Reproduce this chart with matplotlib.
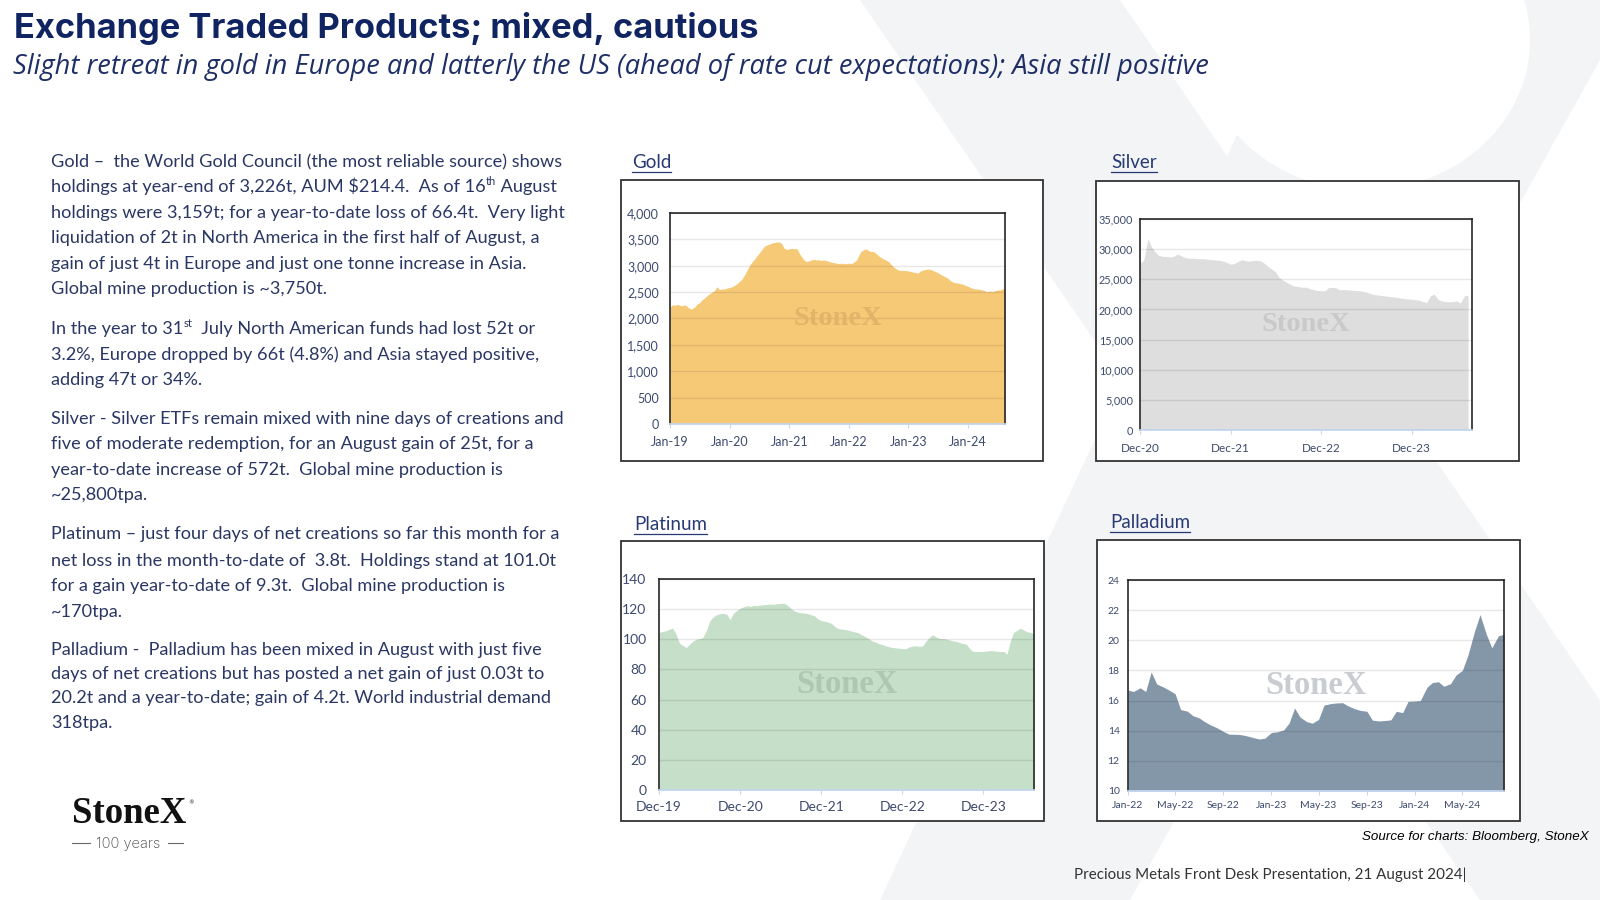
import numpy as np
import pandas as pd
import matplotlib
matplotlib.use("Agg")
import matplotlib.pyplot as plt
from matplotlib.patches import Rectangle, Polygon, Ellipse
from matplotlib.lines import Line2D
import matplotlib.ticker as mticker

# ---- data (semi-monthly) ----
gold = [2210, 2260, 2250, 2270, 2250, 2240, 2260, 2230, 2190, 2180, 2220, 2270,
        2300, 2350, 2390, 2430, 2470, 2500, 2530, 2600, 2550, 2560, 2560, 2575,
        2590, 2600, 2630, 2660, 2700, 2740, 2820, 2900, 3000, 3060, 3120, 3180,
        3240, 3300, 3370, 3390, 3410, 3430, 3440, 3450, 3450, 3420, 3330, 3310,
        3320, 3330, 3320, 3330, 3250, 3180, 3110, 3080, 3090, 3110, 3120, 3110,
        3115, 3100, 3110, 3100, 3080, 3070, 3060, 3050, 3040, 3050, 3040, 3040,
        3050, 3040, 3070, 3100, 3180, 3270, 3300, 3320, 3290, 3270, 3270, 3240,
        3190, 3160, 3130, 3110, 3080, 3030, 2980, 2950, 2920, 2910, 2910, 2910,
        2900, 2890, 2880, 2870, 2860, 2900, 2920, 2930, 2940, 2930, 2910, 2890,
        2870, 2840, 2810, 2790, 2760, 2720, 2690, 2680, 2670, 2660, 2650, 2630,
        2610, 2590, 2570, 2560, 2560, 2550, 2540, 2520, 2510, 2520, 2510, 2530,
        2540, 2540, 2560, 2570]
gold_dates = pd.date_range("2019-01-01", periods=len(gold), freq="SMS")

silver = [27700, 28200, 31700, 30400, 29600, 29000, 28800, 28800, 28700, 28800, 29200, 28900,
          28600, 28500, 28500, 28450, 28400, 28400, 28300, 28250, 28200, 28150, 28000, 27800,
          27500, 27600, 28000, 28250, 28100, 28000, 28100, 28150, 28050, 27700, 27100, 26700,
          26200, 25300, 24800, 24500, 24100, 23850, 23800, 23650, 23700, 23450, 23300, 23150,
          23100, 23100, 23650, 23650, 23600, 23250, 23300, 23250, 23200, 23150, 23100, 23000,
          22900, 22650, 22500, 22400, 22300, 22250, 22150, 22100, 22000, 21900, 21800, 21750,
          21700, 21600, 21500, 21300, 21150, 22200, 22550, 21700, 21400, 21300, 21250, 21300,
          21400, 21050, 22300, 22300]
silver_dates = pd.date_range("2021-01-01", periods=len(silver), freq="SMS")

platinum = [104.5, 105.2, 105.7, 106.5, 107.5, 104.0, 97.5, 96.0, 94.5, 96.5, 98.8, 100.0,
            100.5, 101.0, 106.0, 112.0, 115.0, 116.3, 117.0, 117.3, 116.5, 113.0, 117.4, 119.0,
            120.7, 121.5, 122.3, 121.8, 122.5, 122.3, 122.8, 122.9, 123.2, 123.4, 123.2, 123.6,
            123.8, 124.0, 122.5, 120.5, 118.8, 118.0, 117.6, 117.4, 117.0, 116.2, 115.5, 113.5,
            112.3, 112.0, 111.3, 110.5, 108.5, 107.2, 106.8, 106.5, 106.0, 105.5, 104.8, 104.3,
            103.0, 101.9, 100.5, 99.0, 98.2, 97.2, 96.5, 95.8, 95.0, 94.6, 94.3, 94.1,
            93.8, 93.7, 95.0, 95.5, 95.7, 95.3, 95.5, 98.5, 101.0, 103.0, 101.5, 100.6,
            100.5, 100.3, 99.5, 98.9, 98.6, 97.8, 97.2, 96.8, 93.5, 91.9, 91.9, 92.0,
            91.9, 92.2, 92.4, 92.4, 92.0, 91.8, 91.9, 90.1, 99.0, 104.5, 106.0, 107.4,
            106.0, 105.0, 104.5, 103.5]
platinum_dates = pd.date_range("2020-01-01", periods=len(platinum), freq="SMS")

palladium = [16.7, 16.6, 16.85, 16.6, 17.9, 17.1, 16.9, 16.7, 16.45, 15.4, 15.3, 15.0,
             14.85, 14.6, 14.36, 14.2, 13.95, 13.77, 13.76, 13.74, 13.65, 13.55, 13.45, 13.5,
             13.88, 13.92, 14.05, 14.51, 15.5, 14.9, 14.6, 14.5, 14.75, 15.7, 15.8, 15.84,
             15.86, 15.65, 15.46, 15.35, 15.29, 14.7, 14.65, 14.67, 14.72, 15.29, 15.2, 15.95,
             15.97, 16.0, 16.88, 17.2, 17.25, 16.95, 17.12, 17.7, 18.0, 19.0, 20.6, 21.7,
             20.4, 19.5, 20.3, 20.4]
palladium_dates = pd.date_range("2022-01-01", periods=len(palladium), freq="SMS")

gold_ticks = pd.to_datetime(["2019-01-01", "2020-01-01", "2021-01-01", "2022-01-01", "2023-01-01", "2024-01-01"])
silver_ticks = pd.to_datetime(["2020-12-31", "2021-12-31", "2022-12-31", "2023-12-31"])
platinum_ticks = pd.to_datetime(["2019-12-31", "2020-12-31", "2021-12-31", "2022-12-31", "2023-12-31"])
palladium_ticks = pd.date_range("2022-01-01", "2024-05-01", freq="4MS")

body = [
    (167, "Gold –  the World Gold Council (the most reliable source) shows"),
    (192, ["holdings at year-end of 3,226t, AUM $214.4.  As of 16", "th", " August"]),
    (218, "holdings were 3,159t; for a year-to-date loss of 66.4t.  Very light"),
    (243, "liquidation of 2t in North America in the first half of August, a"),
    (269, "gain of just 4t in Europe and just one tonne increase in Asia."),
    (294, "Global mine production is ~3,750t."),
    (334, ["In the year to 31", "st", "  July North American funds had lost 52t or"]),
    (360, "3.2%, Europe dropped by 66t (4.8%) and Asia stayed positive,"),
    (385, "adding 47t or 34%."),
    (424, "Silver - Silver ETFs remain mixed with nine days of creations and"),
    (449, "five of moderate redemption, for an August gain of 25t, for a"),
    (475, "year-to-date increase of 572t.  Global mine production is"),
    (500, "~25,800tpa."),
    (539, "Platinum – just four days of net creations so far this month for a"),
    (566, "net loss in the month-to-date of  3.8t.  Holdings stand at 101.0t"),
    (591, "for a gain year-to-date of 9.3t.  Global mine production is"),
    (617, "~170tpa."),
    (655, "Palladium -  Palladium has been mixed in August with just five"),
    (679, "days of net creations but has posted a net gain of just 0.03t to"),
    (703, "20.2t and a year-to-date; gain of 4.2t. World industrial demand"),
    (728, "318tpa."),
]

# ---- figure ----
W, H = 1600, 900
fig = plt.figure(figsize=(16, 9), dpi=100)
fig.patch.set_facecolor("white")
R = fig.canvas.get_renderer()


def fx(p):
    return p / W


def fy(p):
    return 1 - p / H


def text_w(t):
    return t.get_window_extent(R).width


def fit(x, y, s, width, size0=12, **kw):
    t = fig.text(fx(x), fy(y), s, fontsize=size0, **kw)
    t.set_fontsize(size0 * width / text_w(t))
    return t


def poly(pts, color, z=0):
    fig.add_artist(Polygon([(fx(a), fy(b)) for a, b in pts], closed=True,
                           transform=fig.transFigure, facecolor=color,
                           edgecolor="none", zorder=z))


# faint background X
bg = "#f3f4f6"
poly([(860, 0), (1120, 0), (1600, 700), (1600, 900), (1480, 900)], bg)
poly([(1300, 0), (1600, 0), (1600, 60), (1130, 900), (880, 900)], bg)
fig.add_artist(Ellipse((fx(1365), fy(40)), 330 / W, 300 / H, transform=fig.transFigure,
                       facecolor="white", edgecolor="none", zorder=0.5))

navy = "#0f2461"
txt = "#2a3764"

# title / subtitle
fit(14, 38, "Exchange Traded Products; mixed, cautious", 744,
    family="Inter", weight="bold", color=navy, va="baseline", zorder=5)
fit(13, 74, "Slight retreat in gold in Europe and latterly the US (ahead of rate cut expectations); Asia still positive",
    1194, family="Open Sans", style="italic", color="#1e2f66", va="baseline", zorder=5)

# body text
t0 = fit(51, 167, body[0][1], 511, family="Lato", color=txt, va="baseline", zorder=5)
fs = t0.get_fontsize()
t0.remove()
for y, line in body:
    if isinstance(line, str):
        fig.text(fx(51), fy(y), line, fontsize=fs, family="Lato", color=txt,
                 va="baseline", zorder=5)
    else:
        x = 51
        for k, seg in enumerate(line):
            sup = k == 1
            t = fig.text(fx(x), fy(y - (fs * 0.55 if sup else 0)), seg,
                         fontsize=fs * (0.62 if sup else 1), family="Lato",
                         color=txt, va="baseline", zorder=5)
            x += text_w(t)

# logo
fit(72, 823, "StoneX", 114, family="Liberation Serif", weight="bold",
    color="#111111", va="baseline", zorder=5)
fig.text(fx(188), fy(804), "®", fontsize=4, color="#111111", va="baseline")
fit(96, 848, "100 years", 64, family="Inter", weight="light", color="#444444",
    va="baseline", zorder=5)
for a, b in [(72, 90), (168, 183)]:
    fig.add_artist(Line2D([fx(a), fx(b)], [fy(843), fy(843)], color="#666666", lw=0.8,
                          transform=fig.transFigure))

# footer
fit(1362, 837, "Source for charts: Bloomberg, StoneX", 226, family="Liberation Sans",
    style="italic", color="black", va="center", zorder=5)
fit(1074, 875, "Precious Metals Front Desk Presentation, 21 August 2024|", 391,
    family="Lato", color="#333333", va="center", zorder=5)


def chart(box, inner, title, txy, dates, vals, ylim, ystep, color, ticks, xlim,
          fsy, fsx, ypad, xpad, wm_size, wm_color, comma):
    x0, y0, x1, y1 = box
    fig.add_artist(Rectangle((fx(x0), fy(y1)), (x1 - x0) / W, (y1 - y0) / H,
                             transform=fig.transFigure, facecolor="white",
                             edgecolor="#333333", lw=1.3, zorder=1))
    t = fig.text(fx(txy[0]), fy(txy[1]), title, fontsize=13.5, family="Lato",
                 color="#283a73", va="baseline", zorder=5)
    tw = text_w(t)
    fig.add_artist(Line2D([fx(txy[0]), fx(txy[0] + tw)], [fy(txy[1] + 3.5)] * 2,
                          color="#283a73", lw=0.9, transform=fig.transFigure, zorder=5))

    a0, b0, a1, b1 = inner
    ax = fig.add_axes([fx(a0), fy(b1), (a1 - a0) / W, (b1 - b0) / H])
    ax.set_zorder(3)
    ax.fill_between(dates, vals, ylim[0], color=color, lw=0, zorder=1)
    ax.set_ylim(*ylim)
    ax.set_xlim(*xlim)
    ax.set_yticks(np.arange(ylim[0], ylim[1] + 1e-9, ystep))
    if comma:
        ax.yaxis.set_major_formatter(mticker.FuncFormatter(lambda v, p: f"{v:,.0f}"))
    else:
        ax.yaxis.set_major_formatter(mticker.FuncFormatter(lambda v, p: f"{v:.0f}"))
    ax.set_xticks(ticks)
    ax.set_xticklabels([d.strftime("%b-%y") for d in ticks])
    ax.yaxis.grid(True, color="black", alpha=0.09, lw=1.0, zorder=2)
    ax.set_axisbelow(False)
    for s in ["left", "top", "right"]:
        ax.spines[s].set_color("#262626")
        ax.spines[s].set_linewidth(1.2)
    ax.spines["bottom"].set_color("#c5d9f1")
    ax.spines["bottom"].set_linewidth(1.3)
    ax.tick_params(axis="y", length=0, pad=ypad, labelsize=fsy, labelcolor="#3c4a6e")
    ax.tick_params(axis="x", length=3, color="#c5d9f1", pad=xpad, labelsize=fsx,
                   labelcolor="#3c4a6e")
    for lab in ax.get_xticklabels() + ax.get_yticklabels():
        lab.set_family("Lato")
    ax.text(0.5, 0.5, "StoneX", transform=ax.transAxes, ha="center", va="center",
            fontsize=wm_size, family="Liberation Serif", weight="bold",
            color=wm_color, zorder=3)
    return ax


chart((621, 180, 1043, 461), (670, 213, 1005, 424), "Gold", (632, 168),
      gold_dates, gold, (0, 4000), 500, "#f6c977", gold_ticks,
      (gold_dates[0], gold_dates[-1]), 9, 9, 8, 6, 20.5, "#e2b469", True)
chart((1096, 181, 1519, 461), (1140, 219, 1472, 430), "Silver", (1111, 168),
      silver_dates, silver, (0, 35000), 5000, "#dedede", silver_ticks,
      (pd.Timestamp("2020-12-31"), pd.Timestamp("2024-08-31")), 7.8, 8.5, 5, 6, 20.5,
      "#c9c9c9", True)
chart((621, 541, 1044, 821), (659, 579, 1034, 790), "Platinum", (634, 530),
      platinum_dates, platinum, (0, 140), 20, "#c5dfc8", platinum_ticks,
      (pd.Timestamp("2019-12-31"), platinum_dates[-1]), 10, 10, 9, 5, 23.5,
      "#adc8b1", False)
chart((1097, 540, 1520, 821), (1128, 580, 1504, 791), "Palladium", (1110, 528),
      palladium_dates, palladium, (10, 24), 2, "#8497a9", palladium_ticks,
      (palladium_dates[0], palladium_dates[-1]), 7.5, 7.5, 6, 4, 23.5,
      "#c9ccd0", False)

fig.savefig("out.png", dpi=100, facecolor="white")
